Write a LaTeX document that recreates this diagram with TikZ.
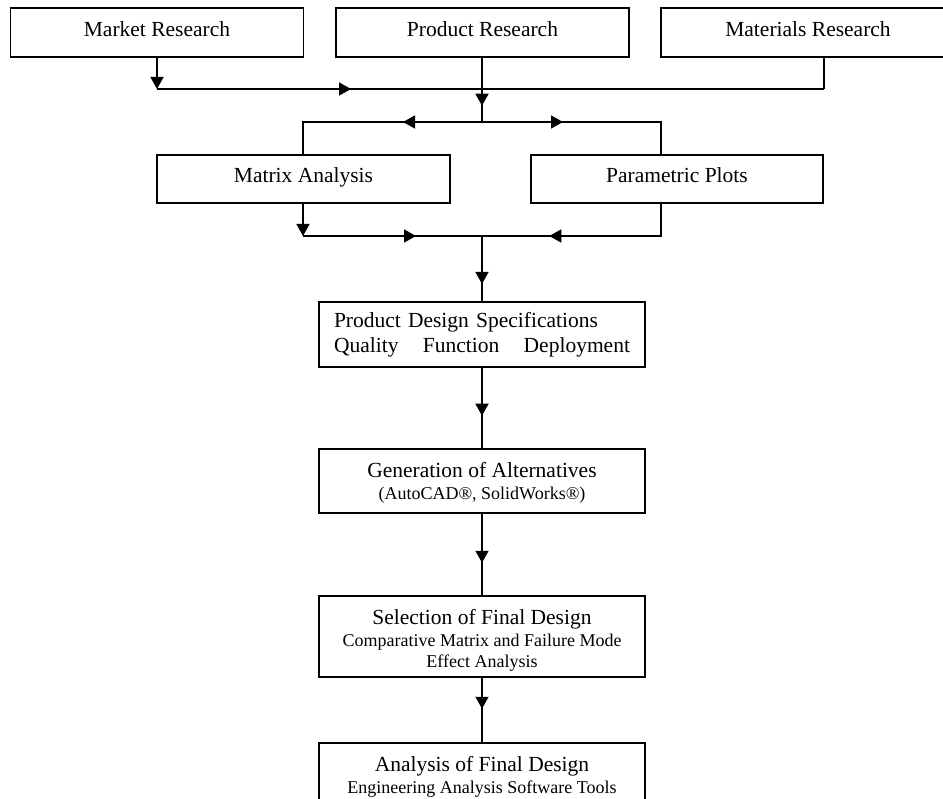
\documentclass[tikz,border=0pt]{standalone}
\usepackage{fontspec}
\setmainfont{Liberation Serif}
\usetikzlibrary{arrows.meta,decorations.markings}
\newcommand\bigtxt{\fontsize{21.5}{25}\selectfont}
\newcommand\smalltxt{\fontsize{18}{21}\selectfont}
\begin{document}
\begin{tikzpicture}[x={(1pt,0pt)},y={(0pt,-1pt)},
  box/.style={draw=black, line width=1.5pt, minimum width=293pt, minimum height=49pt, inner sep=0pt, font=\bigtxt},
  onebox/.style={box, text height=15pt, text depth=7pt},
  tallbox/.style={box, minimum width=326pt, align=center},
  wire/.style={line width=1.5pt},
  tri/.tip={Triangle[length=12pt,width=13pt]},
  arrowat/.style={postaction={decorate}, decoration={markings, mark=at position #1 with {\arrow{tri}}}}]
\useasboundingbox (0,0) rectangle (943,799);
\clip (0,0) rectangle (943,799);
% research boxes
\node[onebox] (mkt) at (157,32.5) {Market Research};
\node[onebox] (prd) at (482.5,32.5) {Product Research};
\node[onebox, minimum width=294pt] (mat) at (808,32.5) {Materials Research};
% analysis boxes
\node[onebox, minimum height=48pt] (mtx) at (303.5,179) {Matrix Analysis};
\node[onebox, minimum height=48pt, minimum width=292pt] (par) at (677,179) {Parametric Plots};
% design chain
\node[tallbox, minimum height=65pt, text width=296pt, align=left] (pds) at (482,334.5) {Product Design Specifications\\ Quality\hfill Function\hfill Deployment};
\node[tallbox, minimum height=64pt] (gen) at (482,481) {\rule{0pt}{18pt}Generation of Alternatives\\[-3pt]{\smalltxt (AutoCAD®, SolidWorks®)}};
\node[tallbox, minimum height=81pt] (sel) at (482,636.5) {\rule{0pt}{23pt}Selection of Final Design\\[-3pt]{\smalltxt Comparative Matrix and Failure Mode}\\[-4pt]{\smalltxt Effect Analysis}};
\node[tallbox, minimum height=65pt] (ana) at (482,775.5) {\rule{0pt}{18pt}Analysis of Final Design\\[-3pt]{\smalltxt Engineering Analysis Software Tools}};
% junctions
\coordinate (b1w) at (157,89);
\coordinate (b1e) at (824,89);
\coordinate (b2w) at (303,122);
\coordinate (b2m) at (482,122);
\coordinate (b2e) at (661,122);
\coordinate (b3w) at (303,236);
\coordinate (b3m) at (482,236);
\coordinate (b3e) at (661,236);
% first bus
\draw[wire,-tri] (mkt.south) -- (b1w);
\draw[wire, arrowat=194pt] (b1w) -- (b1e);
\draw[wire] (mat.south -| b1e) -- (b1e);
\draw[wire, arrowat=48pt] (prd.south -| b2m) -- (b2m);
% second bus
\draw[wire, arrowat=79pt] (b2m) -- (b2w) -- (mtx.north -| b2w);
\draw[wire, arrowat=81pt] (b2m) -- (b2e) -- (par.north -| b2e);
% third bus
\draw[wire,-tri] (mtx.south -| b3w) -- (b3w);
\draw[wire, arrowat=113pt] (b3w) -- (b3m);
\draw[wire, arrowat=144pt] (par.south -| b3e) -- (b3e) -- (b3m);
\draw[wire, arrowat=48pt] (b3m) -- (pds.north);
% chain
\draw[wire, arrowat=48pt] (pds.south) -- (gen.north);
\draw[wire, arrowat=49pt] (gen.south) -- (sel.north);
\draw[wire, arrowat=31pt] (sel.south) -- (ana.north);
\end{tikzpicture}
\end{document}
